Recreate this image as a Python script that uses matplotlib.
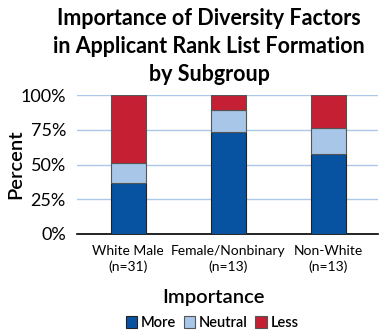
import numpy as np
import matplotlib.pyplot as plt

plt.rcParams['font.family'] = ['Lato', 'DejaVu Sans']

grupos = ['White Male\n(n=31)', 'Female/Nonbinary\n(n=13)', 'Non-White\n(n=13)']
more = np.array([36.6, 73.2, 57.6])
neutral = np.array([14.6, 16.2, 18.9])
less = np.array([48.8, 10.6, 23.5])

c_more = '#0753a1'
c_neutral = '#a7c6e8'
c_less = '#c41f33'

fig = plt.figure(figsize=(3.91, 3.36), dpi=100)
ax = fig.add_axes([77/391, 1-234/336, 301/391, 139/336])

x = np.arange(len(grupos))
w = 0.35
ax.bar(x, more, w, color=c_more, edgecolor='#222222', linewidth=0.8, label='More', zorder=3)
ax.bar(x, neutral, w, bottom=more, color=c_neutral, edgecolor='#555555', linewidth=0.8, label='Neutral', zorder=3)
ax.bar(x, less, w, bottom=more+neutral, color=c_less, edgecolor='#555555', linewidth=0.8, label='Less', zorder=3)

ax.set_xlim(-0.51, 2.5)
ax.set_ylim(0, 100)
ax.set_yticks([0, 25, 50, 75, 100])
ax.set_yticklabels(['0%', '25%', '50%', '75%', '100%'], fontsize=13)
ax.yaxis.grid(True, color='#a9c8ea', linewidth=1, zorder=0)
ax.set_xticks(x)
ax.set_xticklabels(grupos, fontsize=10, linespacing=1.35)
ax.tick_params(length=0, pad=8)
for s in ['top', 'right', 'left']:
    ax.spines[s].set_visible(False)
ax.spines['bottom'].set_linewidth(1.2)

ax.set_ylabel('Percent', fontsize=14.5, fontweight='semibold')
ax.yaxis.set_label_coords(-0.176, 0.5)

fig.text(213/391, 1-298/336, 'Importance', ha='center', va='center', fontsize=14.5, fontweight='semibold')
fig.text(0.535, 0.975, 'Importance of Diversity Factors\nin Applicant Rank List Formation\nby Subgroup',
         ha='center', va='top', fontsize=15.5, fontweight='bold', linespacing=1.4)

fig.legend(loc='center', bbox_to_anchor=(212/391, 1-323/336), ncol=3, frameon=False,
           prop={'size': 10.5, 'weight': 'semibold'}, handlelength=0.8, handleheight=0.8,
           handletextpad=0.25, columnspacing=0.5)

plt.savefig('out.png', dpi=100)
